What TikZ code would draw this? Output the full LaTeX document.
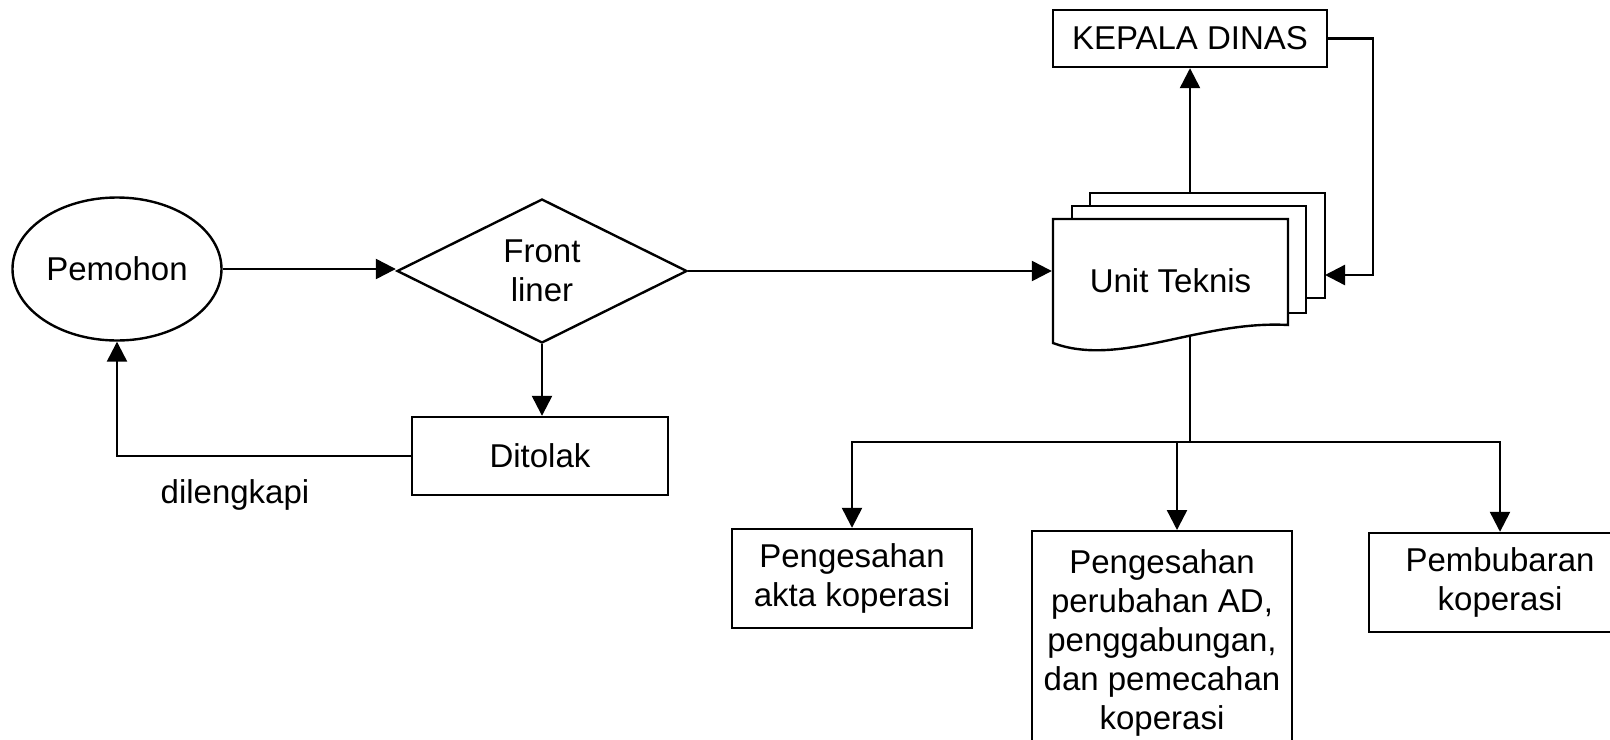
\documentclass[tikz,border=0pt]{standalone}
\usepackage{fontspec}
\setmainfont{Liberation Sans}
\usetikzlibrary{arrows.meta,shapes.geometric,backgrounds}

\begin{document}
\begin{tikzpicture}[x=0.5pt, y=-0.5pt,
  font=\fontsize{16.5}{19.5}\selectfont, >={Triangle[length=10pt,width=10pt]},
  line width=1.2pt,
  box/.style={draw, align=center, inner sep=2pt},
  term/.style={draw, ellipse, inner sep=0pt, minimum width=104.5pt, minimum height=71.5pt},
  dec/.style={draw, diamond, aspect=2, align=center, inner sep=0pt,
              minimum width=145pt, minimum height=72pt},
  res/.style={box, minimum width=120pt, minimum height=49.5pt},
  sheet/.style={draw, fill=white, line width=1.2pt}]
\useasboundingbox (0,0) rectangle (1610,739);
% applicant side
\node[term] (pem) at (117,269) {Pemohon};
\node[dec] (fl) at (542,271) {Front\\liner};
\node[box, minimum width=128pt, minimum height=39pt] (dit) at (540,456) {Ditolak};
\node (lbl) at (235,495) {dilengkapi};
% unit teknis (stacked sheets drawn on background)
\node[minimum width=117.5pt, minimum height=62pt] (unit) at (1170.5,281) {Unit Teknis};
\node[box, minimum width=137pt, minimum height=28.5pt] (kd) at (1190,38.5) {KEPALA DINAS};
\coordinate (ut-top) at (1207.5,193);
\coordinate (ut-e) at (1325,275);
\coordinate (loop) at (1373,275);
\coordinate (split) at (1190,442);
% outputs
\node[res] (b1) at (852,578.5) {Pengesahan\\akta koperasi};
\node[res, anchor=north, minimum width=130pt, minimum height=112pt] (b2) at (1162,530)
      {Pengesahan\\perubahan AD,\\penggabungan,\\dan pemecahan\\koperasi};
\node[res, minimum width=131pt] (b3) at (1500,582.5) {Pembubaran\\koperasi};
\begin{scope}[on background layer]
\draw[line width=1.2pt] (unit.center -| split) -- (split);
\draw[sheet] (1090,193) rectangle (1325,298);
\draw[sheet] (1072,206) rectangle (1306,313);
\draw[sheet] (1053,219) -- (1288,219) -- (1288,325)
  .. controls (1200,320) and (1120,368) .. (1053,343) -- cycle;
\end{scope}
% arrows
\draw[->] (pem.east) -- (pem.east -| fl.west);
\draw[->] (fl.east) -- (fl.east -| unit.west);
\draw[->] (fl.south) -- (fl.south |- dit.north);
\draw[->] (dit.west) -| (pem.south);
\draw[->] (kd.south |- ut-top) -- (kd.south);
\draw[->] (kd.east) -| (loop) -- (ut-e);
\draw[->] (split) -| (b1.north);
\draw[->] (split) -| (b3.north);
\draw[->] ([xshift=7.5pt]b2.north |- split) -- ([xshift=7.5pt]b2.north);
\end{tikzpicture}
\end{document}
